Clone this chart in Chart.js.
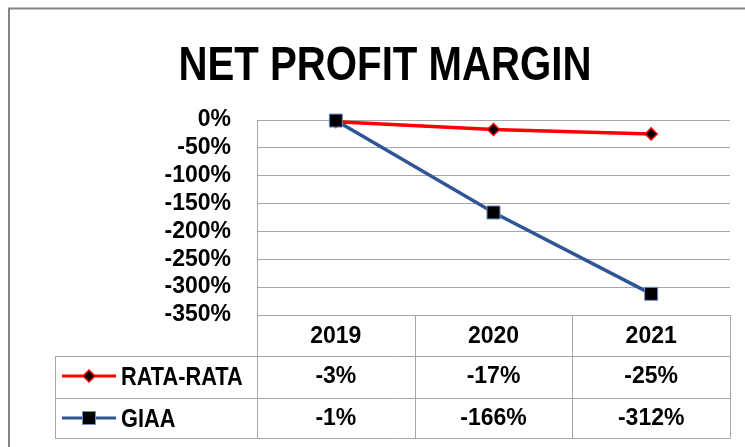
<!DOCTYPE html>
<html><head><meta charset="utf-8">
<script src="https://cdn.jsdelivr.net/npm/chart.js@4/dist/chart.umd.min.js"></script>
<style>html,body{margin:0;padding:0;background:#fff}#wrap{width:745px;height:447px;position:relative}</style>
</head><body><div id="wrap"><canvas id="c" width="745" height="447"></canvas></div>
<script>
const categories = ['2019', '2020', '2021'];
const rataRata = [-3, -17, -25];
const giaa = [-1, -166, -312];
const seriesNames = ['RATA-RATA', 'GIAA'];
const yMin = -350, yMax = 0, yStep = 50;
const chartTitle = 'NET PROFIT MARGIN';

const RED = '#FF0000', BLUE = '#2F5597';
const WIDE = "'Liberation Sans', Arial, sans-serif";
const GRID = '#A6A6A6';

function fillCondensed(ctx, text, x, y, size, squeeze, align) {
  ctx.save();
  ctx.font = 'bold ' + size + 'px ' + WIDE;
  ctx.textBaseline = 'alphabetic';
  ctx.textAlign = align;
  ctx.translate(x, y);
  ctx.scale(squeeze, 1);
  ctx.fillStyle = '#000';
  ctx.fillText(text, 0, 0);
  ctx.restore();
}

function drawMarker(ctx, style, x, y) {
  ctx.save();
  ctx.fillStyle = '#000';
  if (style === 'diamond') {
    const r = 6;
    ctx.beginPath();
    ctx.moveTo(x, y - r); ctx.lineTo(x + r, y); ctx.lineTo(x, y + r); ctx.lineTo(x - r, y); ctx.closePath();
    ctx.fill(); ctx.strokeStyle = RED; ctx.lineWidth = 1.5; ctx.stroke();
  } else {
    const s = 6.5;
    ctx.fillRect(x - s, y - s, 2 * s, 2 * s);
    ctx.strokeStyle = '#6F8FCF'; ctx.lineWidth = 1; ctx.strokeRect(x - s, y - s, 2 * s, 2 * s);
  }
  ctx.restore();
}

const borderPlugin = {
  id: 'outerBorder',
  beforeDraw(chart) {
    const ctx = chart.ctx;
    ctx.save();
    ctx.strokeStyle = '#858585'; ctx.lineWidth = 2;
    ctx.strokeRect(9, 8.5, 900, 900);
    ctx.restore();
  }
};

const titlePlugin = {
  id: 'condensedTitle',
  afterDraw(chart) {
    fillCondensed(chart.ctx, chartTitle, 385, 80, 49, 0.82, 'center');
  }
};

const tablePlugin = {
  id: 'dataTable',
  afterDraw(chart) {
    const { ctx, chartArea: ca, scales: { x } } = chart;
    const half = (x.getPixelForValue(1) - x.getPixelForValue(0)) / 2;
    const edges = [ca.left].concat(categories.map((_, i) => x.getPixelForValue(i) + half));
    const top = ca.bottom, r1 = top + 41, r2 = r1 + 42, r3 = r2 + 40;
    const tableLeft = 55;
    ctx.save();
    ctx.strokeStyle = GRID; ctx.lineWidth = 1;
    const line = (x1, y1, x2, y2) => { ctx.beginPath(); ctx.moveTo(x1, y1); ctx.lineTo(x2, y2); ctx.stroke(); };
    const R = v => Math.round(v) + 0.5;
    line(ca.left, R(top), ca.right, R(top));
    [r1, r2, r3].forEach(y => line(tableLeft, R(y), ca.right, R(y)));
    edges.forEach(e => line(R(e), top, R(e), R(r3)));
    line(R(tableLeft), R(r1), R(tableLeft), R(r3));

    ctx.fillStyle = '#000';
    ctx.textAlign = 'center'; ctx.textBaseline = 'middle';
    ctx.font = 'bold 23px ' + WIDE;
    categories.forEach((c, i) => ctx.fillText(c, x.getPixelForValue(i), (top + r1) / 2 + 1));
    const rows = [[rataRata, (r1 + r2) / 2 - 1, 'diamond', RED, seriesNames[0]], [giaa, (r2 + r3) / 2, 'square', BLUE, seriesNames[1]]];
    rows.forEach(([vals, cy, style, col, name]) => {
      ctx.fillStyle = '#000';
      ctx.font = 'bold 23px ' + WIDE;
      ctx.textAlign = 'center'; ctx.textBaseline = 'middle';
      vals.forEach((v, i) => ctx.fillText(v + '%', x.getPixelForValue(i), cy + 1));
      ctx.strokeStyle = col; ctx.lineWidth = 3;
      line(62, cy, 116, cy);
      drawMarker(ctx, style, 89, cy);
      fillCondensed(ctx, name, 121, cy + 9, 25, 0.87, 'left');
    });
    ctx.restore();
  }
};

new Chart(document.getElementById('c'), {
  type: 'line',
  data: {
    labels: categories,
    datasets: [
      { label: seriesNames[0], data: rataRata, borderColor: RED, borderWidth: 3.5, pointStyle: 'rectRot', pointRadius: 6,
        pointBackgroundColor: '#000', pointBorderColor: RED, pointBorderWidth: 1.5, tension: 0, clip: false, order: 1 },
      { label: seriesNames[1], data: giaa, borderColor: BLUE, borderWidth: 3.5, pointStyle: 'rect', pointRadius: 9.2,
        pointBackgroundColor: '#000', pointBorderColor: '#6F8FCF', pointBorderWidth: 1, tension: 0, clip: false, order: 0 }
    ]
  },
  options: {
    responsive: false,
    animation: false,
    devicePixelRatio: 1,
    layout: { padding: { left: 40, right: 15, top: 120, bottom: 132 } },
    plugins: {
      legend: { display: false },
      tooltip: { enabled: false },
      title: { display: false }
    },
    scales: {
      x: { display: false, offset: true },
      y: {
        min: yMin, max: yMax,
        afterFit(scale) { scale.width = 217; },
        grid: { color: GRID, lineWidth: 1, drawTicks: false },
        border: { display: true, color: GRID, width: 1 },
        ticks: { stepSize: yStep, autoSkip: false, padding: 26, color: '#000', font: { family: WIDE, size: 23, weight: 'bold', lineHeight: 1 },
          callback: v => v + '%' }
      }
    }
  },
  plugins: [borderPlugin, titlePlugin, tablePlugin]
});
</script></body></html>
